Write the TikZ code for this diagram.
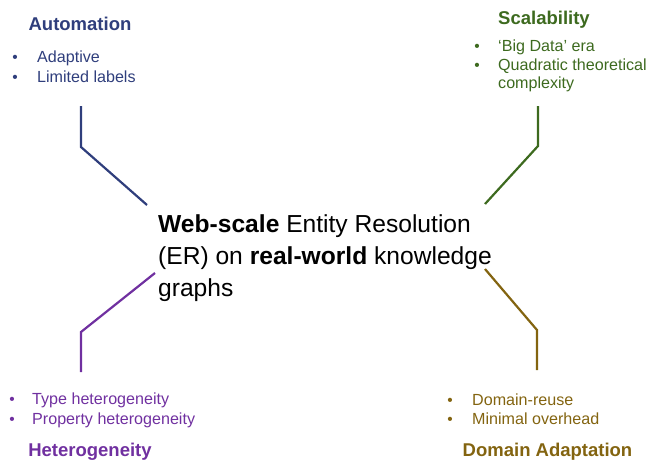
\documentclass[tikz,border=0pt]{standalone}
\usepackage{fontspec}
\setmainfont{Liberation Sans}
\definecolor{cblue}{HTML}{2F3E7C}
\definecolor{cgreen}{HTML}{3D6A1F}
\definecolor{cpurple}{HTML}{7030A0}
\definecolor{cbrown}{HTML}{836410}
\begin{document}
\begin{tikzpicture}[x=1pt,y=-1pt,
  head/.style={font=\fontsize{18.5}{22}\selectfont\bfseries, inner sep=0pt, anchor=base},
  item/.style={font=\fontsize{16.1}{19}\selectfont, inner sep=0pt, anchor=base west},
  bul/.style={font=\fontsize{15.5}{19}\selectfont, inner sep=0pt, anchor=base},
  centre/.style={font=\fontsize{24.6}{30}\selectfont, inner sep=0pt, anchor=base west},
  link/.style={line width=2.2pt}]
\useasboundingbox (0,0) rectangle (651,459);

% Automation
\node[head, text=cblue] (autoh) at (80,30.5) {Automation};
\node[bul, text=cblue] (autob1) at (15,62) {•};
\node[item, text=cblue] (autoi1) at (37,62) {Adaptive};
\node[bul, text=cblue] (autob2) at (15,82) {•};
\node[item, text=cblue] (autoi2) at (37,82) {Limited labels};

% Scalability
\node[head, text=cgreen] (scalh) at (544,24) {Scalability};
\node[bul, text=cgreen] (scalb1) at (477,51) {•};
\node[item, text=cgreen] (scali1) at (498,51) {‘Big Data’ era};
\node[bul, text=cgreen] (scalb2) at (477,70) {•};
\node[item, text=cgreen] (scali2) at (498,70) {Quadratic theoretical};
\node[item, text=cgreen] (scali3) at (498,88) {complexity};

% Heterogeneity
\node[bul, text=cpurple] (hetb1) at (12,404) {•};
\node[item, text=cpurple] (heti1) at (32,404) {Type heterogeneity};
\node[bul, text=cpurple] (hetb2) at (12,424) {•};
\node[item, text=cpurple] (heti2) at (32,424) {Property heterogeneity};
\node[head, text=cpurple] (heth) at (90,456) {Heterogeneity};

% Domain Adaptation
\node[bul, text=cbrown] (domb1) at (450,405) {•};
\node[item, text=cbrown] (domi1) at (472,405) {Domain-reuse};
\node[bul, text=cbrown] (domb2) at (450,424) {•};
\node[item, text=cbrown] (domi2) at (472,424) {Minimal overhead};
\node[head, text=cbrown] (domh) at (547.5,456) {Domain Adaptation};

% Centre
\node[centre] (c1) at (158,232) {\textbf{Web-scale} Entity Resolution};
\node[centre] (c2) at (158,264) {(ER) on \textbf{real-world} knowledge};
\node[centre] (c3) at (158,296) {graphs};

% connectors
\coordinate (a1) at (81,106); \coordinate (a2) at (81,147); \coordinate (a3) at (147,205);
\coordinate (s1) at (538,106); \coordinate (s2) at (538,146); \coordinate (s3) at (485,204);
\coordinate (h1) at (155,273); \coordinate (h2) at (81,332); \coordinate (h3) at (81,372);
\coordinate (d1) at (485,269); \coordinate (d2) at (537,330); \coordinate (d3) at (537,370);
\draw[link, cblue] (a1) -- (a2) -- (a3);
\draw[link, cgreen] (s1) -- (s2) -- (s3);
\draw[link, cpurple] (h1) -- (h2) -- (h3);
\draw[link, cbrown] (d1) -- (d2) -- (d3);
\end{tikzpicture}
\end{document}
